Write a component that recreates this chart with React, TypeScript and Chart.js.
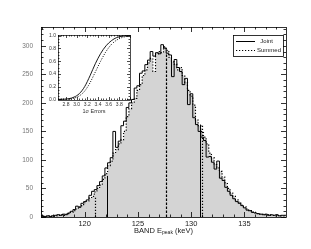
import React, { useEffect, useRef } from "react";
import { Chart, registerables } from "chart.js";
Chart.register(...registerables);

// ---------- Data ----------
const BIN_START = 115.9;
const BIN_WIDTH = 0.25;
const jointCounts = [
  60, 2, 1, 2, 1, 2, 3, 4, 3, 5, 4, 7, 10, 13, 19, 17, 24, 27, 30, 38,
  45, 48, 55, 62, 72, 86, 95, 104, 150, 122, 133, 160, 168, 192, 200, 206, 226, 230, 252, 256,
  267, 275, 290, 282, 288, 286, 302, 296, 287, 284, 246, 276, 262, 255, 232, 243, 197, 216, 174, 162,
  150, 140, 134, 105, 106, 96, 84, 98, 68, 64, 52, 45, 38, 32, 27, 24, 20, 16, 12, 11,
  8, 7, 6, 5, 4, 5, 3, 4, 3, 4, 2, 3,
];
const summedCounts = [
  55, 2, 1, 1, 2, 1, 2, 3, 4, 3, 5, 6, 8, 11, 14, 18, 20, 25, 28, 33,
  36, 44, 50, 56, 66, 76, 90, 98, 112, 118, 128, 135, 150, 176, 190, 200, 208, 222, 232, 248,
  258, 270, 278, 255, 286, 290, 288, 298, 292, 280, 272, 268, 258, 262, 248, 236, 222, 212, 196, 170,
  160, 150, 140, 128, 112, 104, 92, 86, 80, 70, 60, 50, 42, 36, 30, 26, 21, 18, 14, 11,
  9, 8, 6, 5, 5, 4, 4, 3, 3, 2, 3, 2,
];
const jointLines = [122.1, 130.8];
const summedLines = [121.0, 131.0];
const medianLines = [127.6];
const xTickValues = [120, 125, 130, 135];
const yTickValues = [0, 50, 100, 150, 200, 250, 300];

const insetSigma = [2.65, 2.75, 2.85, 2.95, 3.05, 3.15, 3.25, 3.35, 3.45, 3.55, 3.65, 3.75, 3.85, 3.95, 4.0];
const insetJoint = [0, 0.002, 0.01, 0.035, 0.09, 0.2, 0.37, 0.56, 0.72, 0.84, 0.92, 0.97, 0.99, 1.0, 1.0];
const insetSummed = [0, 0.001, 0.005, 0.02, 0.055, 0.13, 0.26, 0.43, 0.6, 0.75, 0.86, 0.93, 0.97, 0.99, 1.0];
const insetXTicks = [2.8, 3.0, 3.2, 3.4, 3.6, 3.8];
const insetYTicks = [0, 0.2, 0.4, 0.6, 0.8, 1.0];

const FONT = "'Liberation Sans', Arial, sans-serif";

function stepPoints(counts: number[]) {
  const pts = counts.map((v, i) => ({ x: BIN_START + i * BIN_WIDTH, y: v }));
  pts.push({ x: BIN_START + counts.length * BIN_WIDTH, y: counts[counts.length - 1] });
  return pts;
}
function countAt(counts: number[], x: number) {
  const i = Math.floor((x - BIN_START) / BIN_WIDTH);
  return counts[Math.max(0, Math.min(counts.length - 1, i))];
}

function drawFrameTicks(chart: any, cfg: any) {
  const { ctx, chartArea, scales } = chart;
  const { left, right, top, bottom } = chartArea;
  const x = scales.x, y = scales.y;
  ctx.save();
  ctx.strokeStyle = "#000";
  ctx.lineWidth = cfg.lw;
  ctx.beginPath();
  const n0x = Math.ceil(x.min / cfg.xMinor - 1e-6), n1x = Math.floor(x.max / cfg.xMinor + 1e-6);
  for (let n = n0x; n <= n1x; n++) {
    const v = n * cfg.xMinor;
    const r = v / cfg.xMajor;
    const major = Math.abs(r - Math.round(r)) < 1e-6;
    const len = major ? cfg.majorLen : cfg.minorLen;
    const px = Math.round(x.getPixelForValue(v)) + 0.5;
    ctx.moveTo(px, bottom); ctx.lineTo(px, bottom - len);
    ctx.moveTo(px, top); ctx.lineTo(px, top + len);
  }
  const n0y = Math.ceil(y.min / cfg.yMinor - 1e-6), n1y = Math.floor(y.max / cfg.yMinor + 1e-6);
  for (let n = n0y; n <= n1y; n++) {
    const v = n * cfg.yMinor;
    const r = v / cfg.yMajor;
    const major = Math.abs(r - Math.round(r)) < 1e-6;
    const len = major ? cfg.majorLen : cfg.minorLen;
    const py = Math.round(y.getPixelForValue(v)) + 0.5;
    ctx.moveTo(left, py); ctx.lineTo(left + len, py);
    ctx.moveTo(right, py); ctx.lineTo(right - len, py);
  }
  ctx.stroke();
  ctx.strokeRect(Math.round(left) + 0.5, Math.round(top) + 0.5, Math.round(right - left), Math.round(bottom - top));
  ctx.restore();
}

export default function App() {
  const mainRef = useRef<HTMLCanvasElement>(null);
  const insetRef = useRef<HTMLCanvasElement>(null);

  useEffect(() => {
    const mainPlugin = {
      id: "mainDecor",
      afterDatasetsDraw(chart: any) {
        const { ctx, scales } = chart;
        const x = scales.x, y = scales.y;
        const vline = (v: number, counts: number[]) => {
          const px = Math.round(x.getPixelForValue(v)) + 0.5;
          ctx.beginPath();
          ctx.moveTo(px, y.getPixelForValue(0));
          ctx.lineTo(px, y.getPixelForValue(countAt(counts, v)));
          ctx.stroke();
        };
        ctx.save();
        ctx.strokeStyle = "#000";
        ctx.lineWidth = 1;
        ctx.setLineDash([]);
        jointLines.forEach((v) => vline(v, jointCounts));
        ctx.lineWidth = 1.2;
        ctx.setLineDash([1.2, 1.8]);
        summedLines.forEach((v) => vline(v, summedCounts));
        ctx.lineWidth = 1.2;
        ctx.setLineDash([2.5, 1.5]);
        medianLines.forEach((v) => vline(v, summedCounts));
        ctx.restore();
      },
      afterDraw(chart: any) {
        const { ctx, chartArea } = chart;
        drawFrameTicks(chart, { xMinor: 1, xMajor: 5, yMinor: 10, yMajor: 50, majorLen: 5, minorLen: 2.5, lw: 0.8 });
        ctx.save();
        ctx.fillStyle = "#222";
        ctx.textBaseline = "alphabetic";
        const big = `7.5px ${FONT}`, small = `5px ${FONT}`;
        const p1 = "BAND E", p2 = "peak", p3 = " (keV)";
        ctx.font = big; const w1 = ctx.measureText(p1).width; const w3 = ctx.measureText(p3).width;
        ctx.font = small; const w2 = ctx.measureText(p2).width;
        const cx = (chartArea.left + chartArea.right) / 2;
        let sx = cx - (w1 + w2 + w3) / 2;
        const by = 232.5;
        ctx.font = big; ctx.fillText(p1, sx, by); sx += w1;
        ctx.font = small; ctx.fillText(p2, sx, by + 1.5); sx += w2;
        ctx.font = big; ctx.fillText(p3, sx, by);
        // legend
        const lx = 233, ly = 35, lw = 50, lh = 21;
        ctx.fillStyle = "#fff";
        ctx.fillRect(lx, ly, lw, lh);
        ctx.strokeStyle = "#000";
        ctx.lineWidth = 0.8;
        ctx.strokeRect(lx + 0.5, ly + 0.5, lw, lh);
        ctx.lineWidth = 1;
        ctx.beginPath(); ctx.moveTo(236, 41.5); ctx.lineTo(255, 41.5); ctx.stroke();
        ctx.setLineDash([1.2, 1.8]); ctx.lineWidth = 1.2;
        ctx.beginPath(); ctx.moveTo(236, 50.5); ctx.lineTo(255, 50.5); ctx.stroke();
        ctx.setLineDash([]);
        ctx.fillStyle = "#222";
        ctx.font = `6px ${FONT}`;
        ctx.textBaseline = "middle";
        ctx.textAlign = "right";
        ctx.fillText("Joint", 273, 41.5);
        ctx.fillText("Summed", 281, 50.5);
        ctx.restore();
      },
    };

    const main = new Chart(mainRef.current!, {
      type: "line",
      data: {
        datasets: [
          {
            label: "fill",
            data: stepPoints(summedCounts),
            stepped: "after",
            borderWidth: 0,
            borderColor: "rgba(0,0,0,0)",
            backgroundColor: "#d4d4d4",
            fill: "origin",
            pointRadius: 0,
            order: 3,
          },
          {
            label: "Joint",
            data: stepPoints(jointCounts),
            stepped: "after",
            borderWidth: 1,
            borderColor: "#000",
            fill: false,
            pointRadius: 0,
            order: 2,
          },
          {
            label: "Summed",
            data: stepPoints(summedCounts),
            stepped: "after",
            borderWidth: 1.2,
            borderColor: "#000",
            borderDash: [1.2, 1.8],
            fill: false,
            pointRadius: 0,
            order: 1,
          },
        ],
      } as any,
      options: {
        animation: false,
        responsive: false,
        devicePixelRatio: 1,
        layout: { padding: { top: 27, right: 25, left: 0, bottom: 0 } },
        plugins: { legend: { display: false }, tooltip: { enabled: false } },
        scales: {
          x: {
            type: "linear",
            min: BIN_START,
            max: BIN_START + jointCounts.length * BIN_WIDTH,
            grid: { display: false, drawTicks: false },
            border: { display: false },
            afterBuildTicks: (s: any) => { s.ticks = xTickValues.map((v) => ({ value: v })); },
            afterFit: (s: any) => { s.height = 32; },
            ticks: { padding: 2, color: "#222", font: { family: FONT, size: 7.5 }, maxRotation: 0, callback: (v: any) => String(v) },
          },
          y: {
            type: "linear",
            min: 0,
            max: 333,
            grid: { display: false, drawTicks: false },
            border: { display: false },
            afterBuildTicks: (s: any) => { s.ticks = yTickValues.map((v) => ({ value: v })); },
            afterFit: (s: any) => { s.width = 41; },
            ticks: { padding: 8, color: "#777", font: { family: FONT, size: 6.5 }, callback: (v: any) => String(v) },
          },
        },
      } as any,
      plugins: [mainPlugin],
    });

    const insetPlugin = {
      id: "insetDecor",
      beforeDatasetsDraw(chart: any) {
        const { ctx, chartArea } = chart;
        ctx.save();
        ctx.fillStyle = "#fff";
        ctx.fillRect(chartArea.left, chartArea.top, chartArea.right - chartArea.left, chartArea.bottom - chartArea.top);
        ctx.restore();
      },
      afterDraw(chart: any) {
        const { ctx, chartArea } = chart;
        drawFrameTicks(chart, { xMinor: 0.05, xMajor: 0.2, yMinor: 0.05, yMajor: 0.2, majorLen: 3, minorLen: 1.5, lw: 0.7 });
        ctx.save();
        ctx.fillStyle = "#333";
        ctx.font = `5.5px ${FONT}`;
        ctx.textAlign = "center";
        ctx.textBaseline = "middle";
        ctx.fillText("1\u03c3 Errors", (chartArea.left + chartArea.right) / 2, 81.5);
        ctx.restore();
      },
    };

    const inset = new Chart(insetRef.current!, {
      type: "line",
      data: {
        datasets: [
          {
            label: "Joint",
            data: insetSigma.map((s, i) => ({ x: s, y: insetJoint[i] })),
            borderColor: "#000",
            borderWidth: 0.9,
            pointRadius: 0,
            cubicInterpolationMode: "monotone",
            fill: false,
          },
          {
            label: "Summed",
            data: insetSigma.map((s, i) => ({ x: s, y: insetSummed[i] })),
            borderColor: "#000",
            borderWidth: 1,
            borderDash: [1, 1.5],
            pointRadius: 0,
            cubicInterpolationMode: "monotone",
            fill: false,
          },
        ],
      } as any,
      options: {
        animation: false,
        responsive: false,
        devicePixelRatio: 1,
        layout: { padding: { top: 5, right: 6, left: 0, bottom: 0 } },
        plugins: { legend: { display: false }, tooltip: { enabled: false } },
        scales: {
          x: {
            type: "linear",
            min: 2.65,
            max: 4.0,
            grid: { display: false, drawTicks: false },
            border: { display: false },
            afterBuildTicks: (s: any) => { s.ticks = insetXTicks.map((v) => ({ value: v })); },
            afterFit: (s: any) => { s.height = 18; },
            ticks: { padding: 2, color: "#333", font: { family: FONT, size: 5 }, maxRotation: 0, autoSkip: false, callback: (v: any) => Number(v).toFixed(1) },
          },
          y: {
            type: "linear",
            min: -0.01,
            max: 1.01,
            grid: { display: false, drawTicks: false },
            border: { display: false },
            afterBuildTicks: (s: any) => { s.ticks = insetYTicks.map((v) => ({ value: v })); },
            afterFit: (s: any) => { s.width = 14; },
            ticks: { padding: 2, color: "#333", font: { family: FONT, size: 5 }, autoSkip: false, callback: (v: any) => Number(v).toFixed(1) },
          },
        },
      } as any,
      plugins: [insetPlugin],
    });

    return () => {
      main.destroy();
      inset.destroy();
    };
  }, []);

  return (
    <div style={{ position: "fixed", left: 0, top: 0, width: 311, height: 249, background: "#fff" }}>
      <canvas ref={mainRef} width={311} height={249} style={{ position: "absolute", left: 0, top: 0, width: 311, height: 249 }} />
      <canvas ref={insetRef} width={92} height={88} style={{ position: "absolute", left: 44, top: 30, width: 92, height: 88 }} />
    </div>
  );
}
